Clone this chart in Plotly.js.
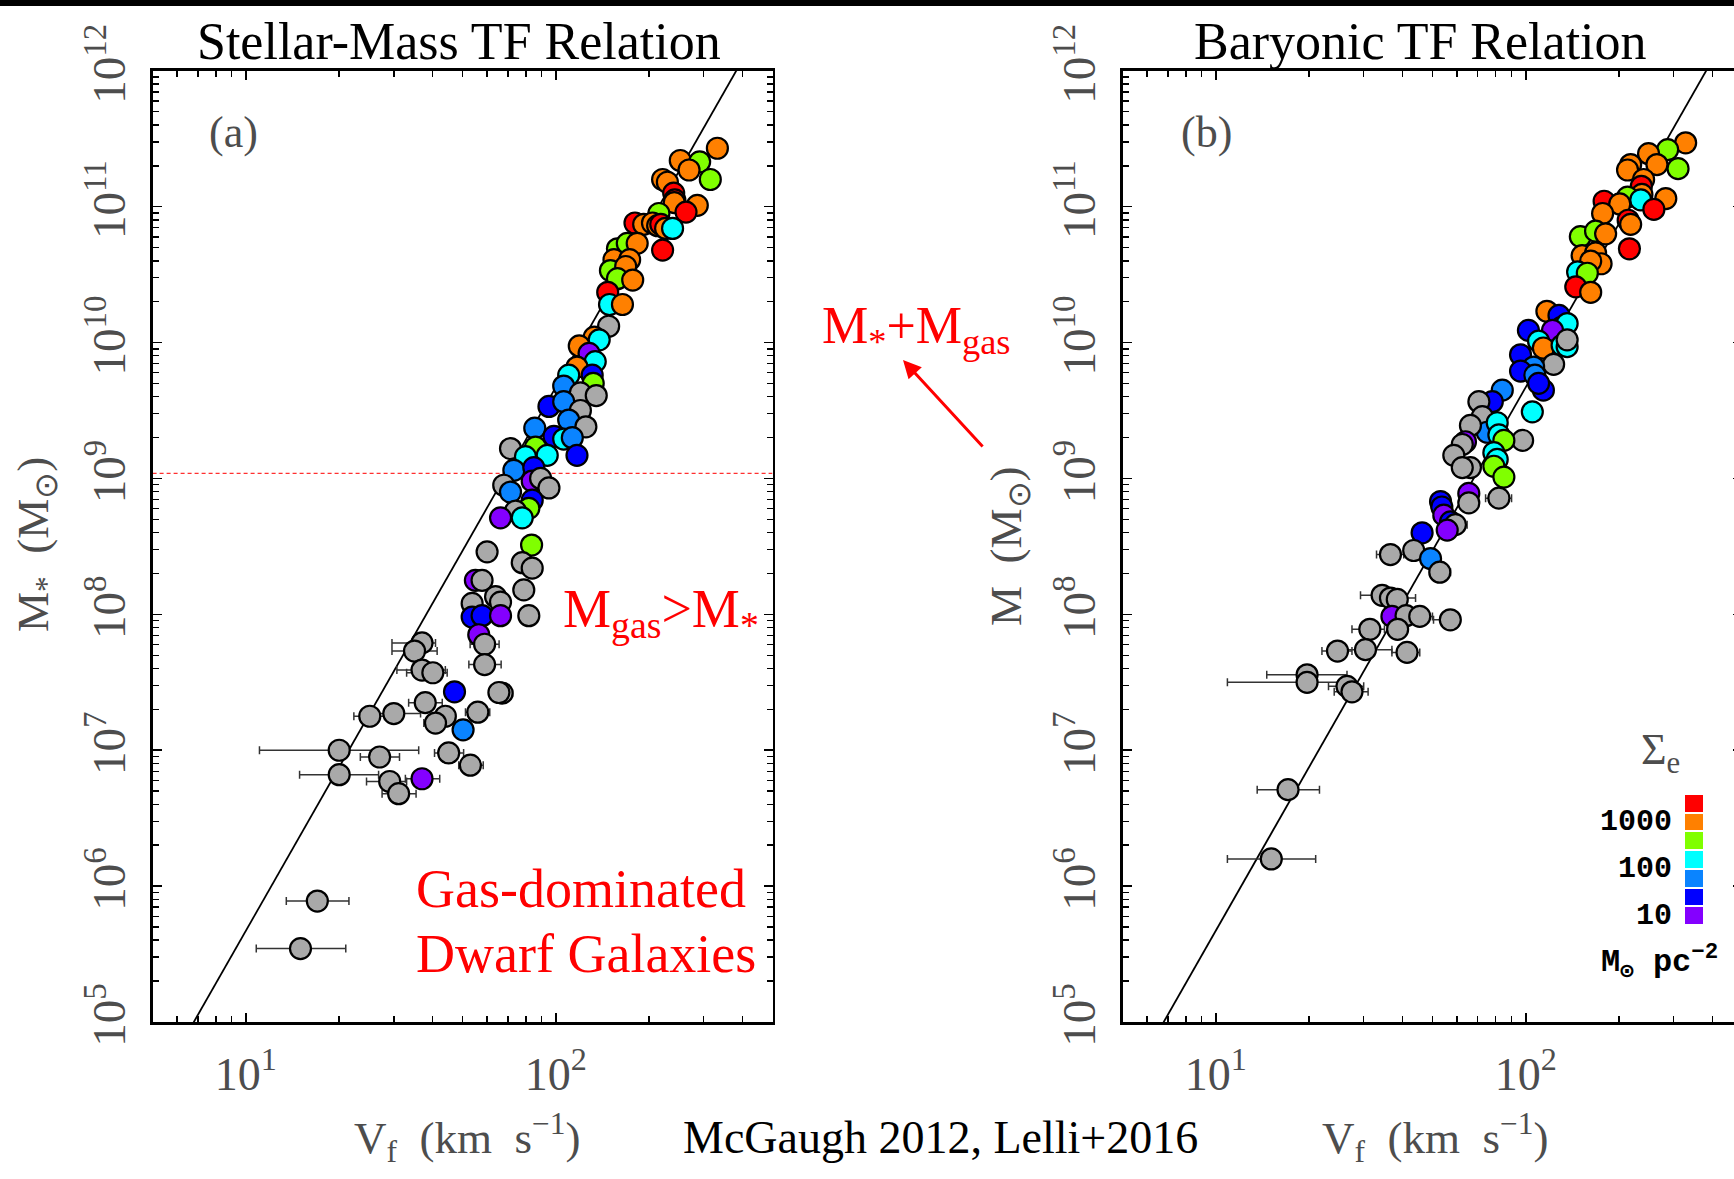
<!DOCTYPE html>
<html><head><meta charset="utf-8">
<script src="https://cdn.plot.ly/plotly-3.0.1.min.js"></script>
<style>
html,body{margin:0;padding:0;overflow:hidden;background:#fff;width:1734px;height:1179px}
#wrap{width:1734px;height:1179px;overflow:hidden;position:relative}
#chart{width:1750px;height:1179px}
</style></head>
<body><div id="wrap"><div id="chart"></div></div>
<script>
// ---------------- DATA ----------------
// Panel (a): stellar mass TF relation  (V_f in km/s, log10 M*/Msun)
const leftV = [332,252,291,269,315,221,229,240,242,241,
  286,263,215,180,192,205,213,218,226,238,
  221,158,170,183,154,173,150,168,158,177,
  147,149,164,148,133,138,119,128,134,117,
  110,131,132,106,120,135,95,106,120,110,
  125,85.5,98.6,106,113,117,71.4,86,79.8,93.8,
  73.2,84.9,83.9,89.3,95,67.9,71.4,83.9,81.8,74.1,
  66.3,77.9,83.5,60,77.9,83.9,
  55,57.8,78.8,63.9,66.3,53.7,53.7,57.8,66.3,81.8,
  56.4,58.9,58.9,37,35,37,40.1,47.1,67.1,65.5,
  37.9,44,40.9,56,50.2,25.1,30,20,27,45.1,
  53,20,29.1,37,31.1,17,15];
const leftLogM = [11.43,11.34,11.33,11.27,11.20,11.20,11.18,11.10,11.05,11.03,
  11.01,10.96,10.95,10.88,10.87,10.88,10.86,10.87,10.84,10.84,
  10.68,10.69,10.73,10.73,10.61,10.61,10.53,10.56,10.47,10.46,
  10.37,10.28,10.28,10.12,10.04,10.02,9.975,9.92,9.86,9.82,
  9.76,9.76,9.70,9.68,9.63,9.61,9.53,9.565,9.50,9.43,
  9.38,9.37,9.31,9.29,9.30,9.17,9.22,9.23,9.16,9.17,
  9.06,9.08,8.98,9.00,8.93,8.95,8.90,8.84,8.78,8.76,
  8.71,8.71,8.51,8.46,8.38,8.34,
  8.25,8.25,8.18,8.13,8.09,8.08,7.98,7.99,7.99,7.99,
  7.85,7.78,7.63,7.79,7.73,7.59,7.57,7.43,7.42,7.425,
  7.35,7.25,7.20,7.28,7.15,7.25,7.27,7.00,6.95,6.98,
  6.89,6.82,6.77,6.79,6.68,5.89,5.54];
// surface-density class of each galaxy (P<10 ... R>1000, X = gas dominated / no value)
const leftClass = ("OOGOGOORRO"+"ORGROOOROC"+"RGGOOOGOGO"+"RCOXOCOPCO"+"CBGDXXBDXD"+
  "XDBCDBXGCC"+"DBPXXXDBGX"+"PCGXXX"+"PXXXXXBBPX"+"PXXXXXXBXX"+"XXXXDXXXXX"+"XXXPXXX").split('');
// horizontal error bars: [point number, V low, V high]
const leftErr = [[44,103,109],[55,108,118],[57,68,75],[74,56,64],[86,78,86],[88,52.9,65.6],
  [89,52.4,66.6],[90,29.6,40.9],[91,29.6,41.4],[92,30.7,44],[93,33,44.6],[95,62,72.5],
  [97,33.5,43],[99,37.5,45],[100,51.1,61.2],[102,22.3,28],[103,26,36.6],[104,11.06,36.1],
  [105,23.4,31.3],[106,40.6,50.4],[107,48.6,58.3],[108,14.9,26.8],[109,24.5,33],
  [110,32.7,42.2],[111,27.5,35.4],[112,13.5,21.5],[113,10.8,21.0]];

// Panel (b): baryonic TF relation (V_f in km/s, log10 Mbar/Msun)
const rightV = [328,287,249,265,310,218,213,240,236,237,
  213,235,283,259,179,201,177,214,218,216,
  150,168,181,152,168,175,162,147,158,145,
  162,117,128,102,130,136,122,110,114,131,
  136,136,96.2,123,106,96.2,107,114,110,84,
  78,70.6,105,97.7,72.4,75.1,66.3,80.9,81.9,85,
  63.9,62.4,58.6,78.9,80.9,78.9,85,66.3,62.4,81.9,
  65.5,65.5,53.1,53.6,54.4,57.2,59.3,55.8,46.3,43.5,
  49.3,36.6,52.8,34.4,36.6,38.5,37,41.1,45.5,57.1,
  31.4,38.6,24.7,30.4,41.4,19.7,19.7,26.5,27.5,17.1,15.1];
const rightLogM = [11.47,11.42,11.39,11.31,11.28,11.31,11.27,11.20,11.15,11.09,
  11.07,11.05,11.06,10.98,11.04,11.02,10.95,10.90,10.87,10.69,
  10.78,10.82,10.80,10.64,10.66,10.58,10.60,10.52,10.51,10.41,
  10.37,10.23,10.20,10.09,10.11,10.14,10.09,10.01,9.96,9.98,
  9.97,10.02,9.91,9.84,9.82,9.79,9.76,9.65,9.70,9.65,
  9.565,9.565,9.49,9.28,9.455,9.34,9.39,9.41,9.32,9.28,
  9.27,9.25,9.17,9.19,9.14,9.09,9.01,9.08,9.08,8.855,
  8.89,8.82,8.83,8.79,8.73,8.68,8.66,8.62,8.60,8.47,
  8.41,8.44,8.31,8.14,8.12,8.11,7.985,7.99,7.985,7.96,
  7.89,7.89,7.73,7.74,7.72,7.555,7.50,7.47,7.43,6.71,6.20];
const rightClass = ("OGOOGOOORO"+"GCORROOROR"+"GGOOOOOCGR"+"OOBBOCPCOC"+"CXBXDBDBBD"+
  "BXCXXDXCCG"+"PXXCCGGXXX"+"PXBBPBXPBX"+"DXXXXXPXXX"+"XXXXXXXXXXX").split('');
const rightErr = [[52,66,75],[69,58.5,66],[70,74.2,90],[77,54,64.7],[82,33,40.4],[83,49,57.2],
  [84,29.3,38],[85,33,44.1],[89,41.5,50],[90,50.4,61.1],[91,27.5,35],[93,22,27.5],
  [94,26.1,37],[95,37,45.5],[96,14.6,26.5],[97,10.9,26.3],[98,23.1,30],[99,24.1,31],
  [100,13.6,21.6],[101,10.9,21.0]];

// Tully-Fisher relation M = A V^4
const tfNorm = 47;
const lineV = [5, 500];
const gasLimit = 1.09e9;   // level above which M* > Mgas

// surface density scale
const sigmaClasses = ['P','B','D','C','G','O','R'];
const sigmaLogEdges = [0.75,1.15,1.55,1.95,2.35,2.75,3.15,3.55];
const sigmaTickVals = [1,2,3];
const sigmaTickText = ['10','100','1000'];

// axis ticks
const xTickVals = [10,100];
const xTickText = ['10<sup>1</sup>','10<sup>2</sup>'];
const yTickVals = [1e5,1e6,1e7,1e8,1e9,1e10,1e11,1e12];
const yTickText = ['10<sup>5</sup>','10<sup>6</sup>','10<sup>7</sup>','10<sup>8</sup>','10<sup>9</sup>','10<sup>10</sup>','10<sup>11</sup>','10<sup>12</sup>'];
const xMinorVals = [6,7,8,9,20,30,40,50,60,70,80,90,200,300,400];
const yMinorVals = [];
for (let e = 5; e < 12; e++) for (let m = 2; m <= 9; m++) yMinorVals.push(m * Math.pow(10, e));

// ---------------- STYLE ----------------
const W = 1750, H = 1179;
const classColors = {R:'#ff0000',O:'#ff8000',G:'#80ff00',C:'#00ffff',D:'#0a84ff',B:'#0000ff',P:'#8400ff',X:'#a9a9a9'};
const SERIF = 'Liberation Serif, Times New Roman, serif';
const GREY = '#4d4d4d';

function pointsTrace(v, logM, cls, err, xa, ya) {
  const n = v.length;
  const lo = new Array(n).fill(NaN), hi = new Array(n).fill(NaN);
  err.forEach(([i, a, b]) => { lo[i-1] = v[i-1] - a; hi[i-1] = b - v[i-1]; });
  return {type:'scatter', mode:'markers', x:v, y:logM.map(m => Math.pow(10, m)), xaxis:xa, yaxis:ya,
    marker:{size:21, color:cls.map(c => classColors[c]), line:{color:'#000', width:2.2}},
    error_x:{type:'data', symmetric:false, array:hi, arrayminus:lo, color:'#333', thickness:1.5, width:4},
    hoverinfo:'skip', showlegend:false, cliponaxis:true};
}
function tfLine(xa, ya) {
  return {type:'scatter', mode:'lines', x:lineV, y:lineV.map(v => tfNorm * Math.pow(v, 4)),
    xaxis:xa, yaxis:ya, line:{color:'#000', width:1.8}, hoverinfo:'skip', showlegend:false};
}
const sigmaCenters = sigmaClasses.map((c, i) => (sigmaLogEdges[i] + sigmaLogEdges[i+1]) / 2);

const traces = [
  tfLine('x','y'),
  {type:'scatter', mode:'lines', x:lineV, y:lineV.map(() => gasLimit), xaxis:'x', yaxis:'y',
   line:{color:'#ff3030', width:1.2, dash:'4px,3px'}, hoverinfo:'skip', showlegend:false},
  pointsTrace(leftV, leftLogM, leftClass, leftErr, 'x', 'y'),
  tfLine('x2','y2'),
  pointsTrace(rightV, rightLogM, rightClass, rightErr, 'x2', 'y2'),
  {type:'heatmap', x:[0], y:sigmaCenters, z:sigmaClasses.map((c, i) => [i]),
   colorscale:sigmaClasses.map((c, i) => [i / (sigmaClasses.length - 1), classColors[c]]),
   zmin:0, zmax:sigmaClasses.length - 1, showscale:false, xaxis:'x3', yaxis:'y3', ygap:2, hoverinfo:'skip'}
];

const px = x => x / W, py = y => 1 - y / H;
function xAxis(d0, d1) {
  return {domain:[px(d0), px(d1)], type:'log', range:[Math.log10(5), Math.log10(500)],
    tickmode:'array', tickvals:xTickVals, ticktext:xTickText, tickangle:0,
    showline:true, linecolor:'#000', linewidth:2.5, mirror:'allticks',
    ticks:'inside', ticklen:9, tickwidth:1.5, tickcolor:'#000', showgrid:false, zeroline:false,
    tickfont:{family:SERIF, size:46, color:GREY}, ticklabelstandoff:10,
    minor:{tickmode:'array', tickvals:xMinorVals, ticks:'inside', ticklen:6, tickwidth:1.5, tickcolor:'#000', showgrid:false}};
}
function yAxis(anchor) {
  return {domain:[py(1022), py(70.8)], anchor:anchor, type:'log', range:[5, 12],
    tickmode:'array', tickvals:yTickVals, ticktext:yTickText, tickangle:-90,
    showline:true, linecolor:'#000', linewidth:2.5, mirror:'allticks',
    ticks:'inside', ticklen:9, tickwidth:1.5, tickcolor:'#000', showgrid:false, zeroline:false,
    tickfont:{family:SERIF, size:47, color:GREY}, ticklabelstandoff:6,
    minor:{tickmode:'array', tickvals:yMinorVals, ticks:'inside', ticklen:6, tickwidth:1.5, tickcolor:'#000', showgrid:false}};
}
function ann(text, x, y, font, extra) {
  return Object.assign({text:text, x:px(x), y:py(y), xref:'paper', yref:'paper', showarrow:false,
    xanchor:'center', yanchor:'middle', font:Object.assign({family:SERIF, size:40, color:'#000'}, font)}, extra || {});
}
const NB = '\u00A0';
const layout = {
  width:W, height:H, margin:{l:0, r:0, t:0, b:0}, paper_bgcolor:'#fff', plot_bgcolor:'rgba(0,0,0,0)',
  showlegend:false,
  xaxis: Object.assign(xAxis(152.6, 772.5), {anchor:'y'}),
  yaxis: yAxis('x'),
  xaxis2: Object.assign(xAxis(1122.5, 1742.4), {anchor:'y2'}),
  yaxis2: yAxis('x2'),
  xaxis3: {domain:[px(1685), px(1703)], anchor:'y3', range:[-0.5, 0.5], visible:false, fixedrange:true},
  yaxis3: {domain:[py(925), py(794)], anchor:'x3', range:[sigmaLogEdges[0], sigmaLogEdges[sigmaLogEdges.length-1]],
    tickmode:'array', tickvals:sigmaTickVals, ticktext:sigmaTickText, ticks:'', showline:false,
    showgrid:false, zeroline:false, ticklabelstandoff:12,
    tickfont:{family:'Liberation Mono, monospace', size:30, color:'#000', weight:'bold'}},
  shapes:[{type:'rect', xref:'paper', yref:'paper', x0:0, x1:1, y0:py(6), y1:1, fillcolor:'#000', line:{width:0}}],
  annotations:[
    ann('Stellar-Mass TF Relation', 459, 41, {size:52}),
    ann('Baryonic TF Relation', 1420, 41, {size:52}),
    ann('(a)', 234, 133, {size:44, color:GREY}),
    ann('(b)', 1206, 133, {size:44, color:GREY}),
    ann('M<sub>gas</sub>&gt;M<sub>*</sub>', 561, 612, {size:54, color:'#ff0000'}, {xanchor:'left'}),
    ann('Gas-dominated', 414, 889, {size:54, color:'#ff0000'}, {xanchor:'left'}),
    ann('Dwarf Galaxies', 414, 954, {size:54, color:'#ff0000'}, {xanchor:'left'}),
    ann('M<sub>*</sub>+M<sub>gas</sub>', 820, 330, {size:52, color:'#ff0000'}, {xanchor:'left'}),
    {text:'', x:px(903), y:py(360), xref:'paper', yref:'paper', showarrow:true, ax:81, ay:88,
     arrowhead:2, arrowsize:1.2, arrowwidth:3, arrowcolor:'#ff0000'},
    ann('McGaugh 2012, Lelli+2016', 940, 1137, {size:46}),
    ann('V<sub>f</sub>'+NB+NB+'(km'+NB+NB+'s<sup>−1</sup>)', 467, 1137, {size:45, color:GREY}),
    ann('V<sub>f</sub>'+NB+NB+'(km'+NB+NB+'s<sup>−1</sup>)', 1435, 1137, {size:45, color:GREY}),
    ann('M<sub>*</sub>'+NB+NB+'(M<sub>⊙</sub>)', 36, 545, {size:45, color:GREY}, {textangle:-90}),
    ann('M'+NB+NB+'(M<sub>⊙</sub>)', 1009, 546, {size:45, color:GREY}, {textangle:-90}),
    ann('Σ<sub>e</sub>', 1660, 752, {size:44, color:GREY}),
    ann('M<sub>⊙</sub>'+NB+'pc<sup>−2</sup>', 1659, 962, {family:'Liberation Mono, monospace', size:32, weight:'bold'})
  ]
};
Plotly.newPlot('chart', traces, layout, {staticPlot:true, displayModeBar:false});
</script></body></html>
